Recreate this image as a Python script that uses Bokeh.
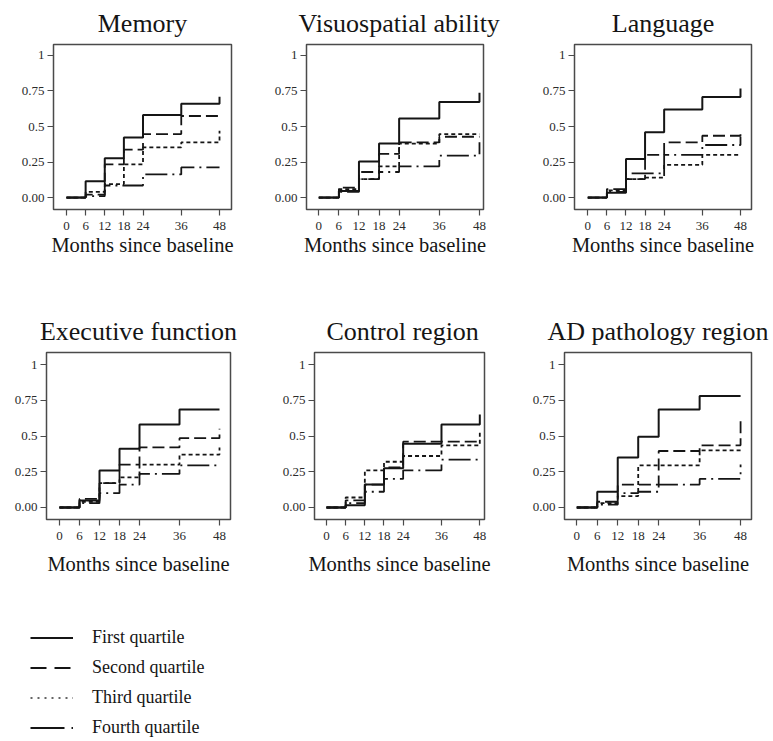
from bokeh.plotting import figure
from bokeh.models import Range1d, FixedTicker, CustomJSTickFormatter, Legend, LegendItem
from bokeh.layouts import column, row
from bokeh.embed import file_html
from bokeh.resources import INLINE

# ---------------- data ----------------
months = [0, 6, 12, 18, 24, 36, 48]
y_ticks = [0, 0.25, 0.5, 0.75, 1]
quartile_labels = ["First quartile", "Second quartile", "Third quartile", "Fourth quartile"]
panel_titles = ["Memory", "Visuospatial ability", "Language",
                "Executive function", "Control region", "AD pathology region"]
x_label = "Months since baseline"

memory_q1 = [0, 0.114, 0.277, 0.423, 0.581, 0.660, 0.709]
memory_q2 = [0, 0.020, 0.233, 0.337, 0.447, 0.574, 0.586]
memory_q3 = [0, 0.040, 0.095, 0.233, 0.353, 0.388, 0.470]
memory_q4 = [0, 0.010, 0.085, 0.085, 0.163, 0.212, 0.212]

visuo_q1 = [0, 0.046, 0.253, 0.381, 0.556, 0.672, 0.737]
visuo_q2 = [0, 0.070, 0.180, 0.307, 0.388, 0.428, 0.428]
visuo_q3 = [0, 0.060, 0.130, 0.220, 0.380, 0.447, 0.447]
visuo_q4 = [0, 0.040, 0.130, 0.180, 0.220, 0.295, 0.390]

lang_q1 = [0, 0.033, 0.272, 0.460, 0.620, 0.707, 0.767]
lang_q2 = [0, 0.060, 0.130, 0.300, 0.388, 0.435, 0.450]
lang_q3 = [0, 0.050, 0.130, 0.140, 0.230, 0.300, 0.300]
lang_q4 = [0, 0.040, 0.170, 0.170, 0.300, 0.370, 0.430]

exec_q1 = [0, 0.049, 0.259, 0.410, 0.580, 0.685, 0.685]
exec_q2 = [0, 0.060, 0.170, 0.300, 0.420, 0.485, 0.550]
exec_q3 = [0, 0.040, 0.170, 0.210, 0.300, 0.370, 0.420]
exec_q4 = [0, 0.030, 0.100, 0.160, 0.235, 0.295, 0.295]

ctrl_q1 = [0, 0.015, 0.160, 0.275, 0.445, 0.580, 0.650]
ctrl_q2 = [0, 0.050, 0.160, 0.280, 0.460, 0.460, 0.460]
ctrl_q3 = [0, 0.070, 0.260, 0.320, 0.360, 0.435, 0.540]
ctrl_q4 = [0, 0.030, 0.110, 0.200, 0.260, 0.335, 0.335]

ad_q1 = [0, 0.110, 0.350, 0.495, 0.685, 0.780, 0.780]
ad_q2 = [0, 0.040, 0.160, 0.160, 0.395, 0.435, 0.630]
ad_q3 = [0, 0.030, 0.080, 0.295, 0.295, 0.400, 0.400]
ad_q4 = [0, 0.020, 0.100, 0.110, 0.160, 0.200, 0.300]

panel_series = [
    [memory_q1, memory_q2, memory_q3, memory_q4],
    [visuo_q1, visuo_q2, visuo_q3, visuo_q4],
    [lang_q1, lang_q2, lang_q3, lang_q4],
    [exec_q1, exec_q2, exec_q3, exec_q4],
    [ctrl_q1, ctrl_q2, ctrl_q3, ctrl_q4],
    [ad_q1, ad_q2, ad_q3, ad_q4],
]

# ---------------- styles / layout ----------------
FONT = "Liberation Serif"
INK = "#151515"
plot_dash = ["solid", "12 5", "4 3", "22 5 2 5"]
plot_width = [2.0, 1.8, 1.8, 1.8]

# width, height, left, right, top, frame_h, x_start, x_end, y_start, y_end,
# title_align, title_offset, axis_label_standoff
layout = [
    (258, 300, 53, 27, 43, 166, -4.08, 51.76, -0.084, 1.077, "center", 0, 1),
    (255, 300, 48, 30, 43, 166, -3.67, 49.20, -0.084, 1.077, "left", -8, 1),
    (260, 300, 61, 22, 43, 166, -4.18, 51.46, -0.084, 1.077, "center", 0, 1),
    (258, 290, 46, 28, 52, 167, -3.90, 51.30, -0.084, 1.084, "center", 0, 10),
    (255, 290, 56, 29, 52, 167, -3.76, 49.47, -0.084, 1.084, "left", 12, 10),
    (260, 290, 51, 22, 52, 167, -3.60, 51.20, -0.084, 1.084, "center", 0, 10),
]

figs = []
for i, (title, series) in enumerate(zip(panel_titles, panel_series)):
    w, h, bl, br, bt, frame_h, xs, xe, ys, ye, talign, toff, lstand = layout[i]
    bb = h - bt - frame_h
    p = figure(width=w, height=h, min_border_left=bl, min_border_right=br,
               min_border_top=bt, min_border_bottom=bb,
               x_range=Range1d(xs, xe), y_range=Range1d(ys, ye),
               toolbar_location=None, output_backend="svg", title=title)
    p.title.text_font = FONT
    p.title.text_font_size = "26px"
    p.title.text_font_style = "normal"
    p.title.text_color = INK
    p.title.align = talign
    p.title.standoff = 13
    p.title.offset = toff
    p.xgrid.visible = False
    p.ygrid.visible = False
    p.outline_line_color = "#4a4a4a"
    p.outline_line_width = 1.5
    p.background_fill_color = "white"
    p.border_fill_color = "white"

    for ax in (p.xaxis[0], p.yaxis[0]):
        ax.axis_line_color = None
        ax.major_tick_out = 6
        ax.major_tick_in = 0
        ax.major_tick_line_color = "#4a4a4a"
        ax.major_tick_line_width = 1.2
        ax.minor_tick_line_color = None
        ax.major_label_text_font = FONT
        ax.major_label_text_font_size = "13px"
        ax.major_label_text_color = "#2a2a2a"
    p.xaxis.ticker = FixedTicker(ticks=months)
    p.xaxis.major_label_standoff = 6
    p.yaxis.ticker = FixedTicker(ticks=y_ticks)
    p.yaxis.major_label_standoff = 3
    p.yaxis.formatter = CustomJSTickFormatter(code="return tick == 0 ? '0.00' : String(tick);")
    p.xaxis.axis_label = x_label
    p.xaxis.axis_label_text_font = FONT
    p.xaxis.axis_label_text_font_size = "20.5px"
    p.xaxis.axis_label_text_font_style = "normal"
    p.xaxis.axis_label_text_color = INK
    p.xaxis.axis_label_standoff = lstand

    for k, vals in enumerate(series):
        p.step(x=months, y=vals, mode="after", line_color=INK,
               line_width=plot_width[k], line_dash=plot_dash[k])
    figs.append(p)

# ---------------- legend ----------------
nan = float("nan")
lg = figure(width=320, height=151, min_border_left=30, min_border_top=37,
            min_border_right=0, min_border_bottom=0,
            x_range=Range1d(0, 1), y_range=Range1d(0, 1),
            toolbar_location=None, output_backend="svg",
            x_axis_location=None, y_axis_location=None)
lg.outline_line_color = None
lg.xgrid.visible = False
lg.ygrid.visible = False
legend_dash = ["solid", "16 8", "2 5", "34 7 2 100"]
legend_width = [2.0, 2.0, 1.5, 2.0]
legend_color = [INK, INK, "#333333", INK]
items = []
for k, lab in enumerate(quartile_labels):
    r = lg.line(x=[nan, nan], y=[nan, nan], line_color=legend_color[k],
                line_width=legend_width[k], line_dash=legend_dash[k])
    items.append(LegendItem(label=lab, renderers=[r]))
legend = Legend(items=items, location="top_left", margin=0, padding=0, spacing=9,
                glyph_width=43, glyph_height=21, label_height=21, label_standoff=19,
                label_text_font=FONT, label_text_font_size="18px", label_text_color=INK,
                border_line_color=None, background_fill_alpha=0)
lg.add_layout(legend)

page = column(row(*figs[:3], spacing=0), row(*figs[3:], spacing=0), lg, spacing=0)
open("out.html", "w").write(file_html(page, INLINE))
